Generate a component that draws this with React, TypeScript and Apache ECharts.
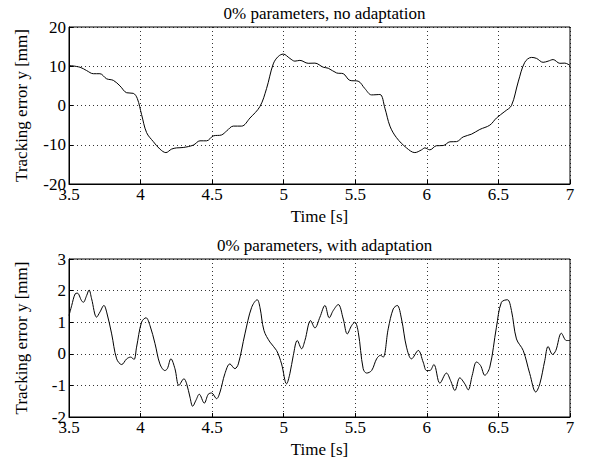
import React, { useEffect, useRef } from "react";
import * as echarts from "echarts";

const titleTop = "0% parameters, no adaptation";
const titleBottom = "0% parameters, with adaptation";
const yName = "Tracking error y [mm]";
const xName = "Time [s]";

const timeTop = [
  3.5, 3.577, 3.623, 3.67, 3.716, 3.763, 3.81, 3.856, 3.903, 3.949, 3.977, 4.007, 4.042, 4.089, 4.135, 4.177,
  4.217, 4.252, 4.298, 4.368, 4.415, 4.461, 4.508, 4.566, 4.601, 4.648, 4.706, 4.764, 4.834, 4.88, 4.927, 4.962,
  4.997, 5.043, 5.078, 5.113, 5.171, 5.218, 5.276, 5.311, 5.369, 5.416, 5.462, 5.52, 5.567, 5.614, 5.672, 5.707,
  5.742, 5.788, 5.858, 5.916, 5.963, 5.986, 6.021, 6.067, 6.114, 6.161, 6.207, 6.254, 6.312, 6.37, 6.44, 6.486,
  6.545, 6.591, 6.638, 6.684, 6.731, 6.766, 6.812, 6.847, 6.882, 6.929, 6.964, 7.0,
];
const errorTop = [
  10.2, 9.75, 8.9, 8.1, 8.1, 6.8, 6.4, 5.0, 3.25, 3.1, 1.8, -2.3, -6.9, -9.2, -11.1, -12,
  -11.1, -10.8, -10.7, -10.1, -9, -9, -7.75, -7.5, -6.5, -5.25, -5.25, -3.2, -0.25, 4.3, 10.6, 12.5,
  13.1, 12, 11.3, 11.5, 10.75, 10.8, 9.75, 9.5, 8.3, 8.1, 6.4, 6.2, 4.3, 2.7, 2.8, -0.7,
  -5.25, -8.2, -10.8, -12, -11.3, -10.8, -11.3, -10.25, -10.2, -9.25, -9.2, -8, -7.3, -6.1, -5, -3.2,
  -1.5, 0, 6, 11, 12.25, 12, 11, 11.3, 11.7, 10.75, 10.8, 10.2,
];

const timeBottom = [
  3.5, 3.519, 3.542, 3.558, 3.588, 3.6, 3.623, 3.64, 3.658, 3.693, 3.716, 3.744, 3.763, 3.798, 3.833, 3.868,
  3.903, 3.931, 3.954, 3.972, 4.007, 4.038, 4.066, 4.101, 4.135, 4.17, 4.187, 4.212, 4.24, 4.268, 4.303, 4.322,
  4.345, 4.364, 4.387, 4.41, 4.445, 4.473, 4.496, 4.531, 4.555, 4.589, 4.624, 4.659, 4.683, 4.729, 4.776, 4.815,
  4.834, 4.862, 4.904, 4.95, 4.985, 5.02, 5.043, 5.067, 5.095, 5.125, 5.148, 5.188, 5.218, 5.253, 5.288, 5.318,
  5.346, 5.381, 5.416, 5.444, 5.474, 5.497, 5.521, 5.555, 5.579, 5.614, 5.649, 5.676, 5.695, 5.73, 5.765, 5.793,
  5.823, 5.858, 5.893, 5.94, 5.974, 5.998, 6.021, 6.049, 6.091, 6.137, 6.165, 6.196, 6.23, 6.265, 6.289, 6.317,
  6.347, 6.375, 6.405, 6.44, 6.486, 6.521, 6.563, 6.591, 6.626, 6.673, 6.719, 6.761, 6.789, 6.824, 6.847, 6.878,
  6.901, 6.94, 6.975, 7.0,
];
const errorBottom = [
  1.21, 1.53, 1.89, 1.92, 1.68, 1.63, 1.84, 2.02, 1.74, 1.16, 1.32, 1.53, 1.32, 0.63, -0.16, -0.34,
  -0.16, -0.105, -0.18, 0.21, 1.0, 1.14, 0.89, 0.32, -0.32, -0.53, -0.47, -0.16, -0.47, -1.0, -0.79, -0.95,
  -1.37, -1.66, -1.47, -1.28, -1.56, -1.28, -1.24, -1.42, -1.21, -0.63, -0.32, -0.47, -0.32, 0.63, 1.47, 1.71,
  1.47, 0.74, 0.37, 0.105, -0.32, -0.95, -0.63, -0.05, 0.42, 0.16, 0.42, 1.05, 0.82, 1.16, 1.53, 1.14,
  1.37, 1.56, 1.1, 0.63, 0.89, 1.0, 0.68, -0.47, -0.61, -0.53, -0.16, -0.05, -0.105, 0.79, 1.42, 1.53,
  1.1, 0.21, -0.16, 0.105, -0.26, -0.53, -0.53, -0.34, -0.93, -0.61, -0.84, -1.16, -0.76, -0.95, -1.14, -0.68,
  -0.26, -0.37, -0.68, -0.42, 0.84, 1.63, 1.71, 1.37, 0.47, 0.105, -0.63, -1.21, -0.95, -0.21, 0.23, -0.02,
  0.105, 0.65, 0.42, 0.42,
];

const FONT = "Liberation Serif";
const FS = 17;

export default function App() {
  const ref = useRef<HTMLDivElement>(null);
  useEffect(() => {
    if (!ref.current) return;
    const chart = echarts.init(ref.current, undefined, { renderer: "svg" });
    const grids = [
      { left: 69, right: 32, top: 27, height: 157 },
      { left: 69, right: 32, top: 259, height: 158 },
    ];
    const dotted = { type: [1, 3] as any, color: "#000", width: 0.8 };
    const xAxisBase = (gi: number) => ({
      type: "value",
      gridIndex: gi,
      min: 3.5,
      max: 7,
      interval: 0.5,
      name: xName,
      nameLocation: "middle",
      nameGap: 24,
      nameTextStyle: { fontFamily: FONT, fontSize: FS, color: "#000" },
      axisLine: { show: true, onZero: false, lineStyle: { color: "#000", width: 1 } },
      axisTick: { show: true, inside: true, length: 4, lineStyle: { color: "#000" } },
      axisLabel: { fontFamily: FONT, fontSize: FS, color: "#000", margin: 2 },
      splitLine: { show: true, lineStyle: dotted },
    });
    const yAxisBase = (gi: number, min: number, max: number, interval: number) => ({
      type: "value",
      gridIndex: gi,
      min,
      max,
      interval,
      name: yName,
      nameLocation: "middle",
      nameGap: 39,
      nameTextStyle: { fontFamily: FONT, fontSize: FS, color: "#000" },
      axisLine: { show: true, onZero: false, lineStyle: { color: "#000", width: 1 } },
      axisTick: { show: true, inside: true, length: 4, lineStyle: { color: "#000" } },
      axisLabel: { fontFamily: FONT, fontSize: FS, color: "#000", margin: 3 },
      splitLine: { show: true, lineStyle: dotted },
    });
    chart.setOption({
      animation: false,
      backgroundColor: "#fff",
      title: [
        {
          text: titleTop,
          left: 319.5,
          textAlign: "center",
          top: 0,
          textStyle: { fontFamily: FONT, fontSize: FS, fontWeight: "normal", color: "#000" },
        },
        {
          text: titleBottom,
          left: 319.5,
          textAlign: "center",
          top: 232,
          textStyle: { fontFamily: FONT, fontSize: FS, fontWeight: "normal", color: "#000" },
        },
      ],
      grid: grids.map((g) => ({ ...g, show: true, borderColor: "#000", borderWidth: 1, backgroundColor: "transparent" })),
      xAxis: [xAxisBase(0), xAxisBase(1)],
      yAxis: [yAxisBase(0, -20, 20, 10), yAxisBase(1, -2, 3, 1)],
      series: [
        {
          type: "line",
          xAxisIndex: 0,
          yAxisIndex: 0,
          data: timeTop.map((t, i) => [t, errorTop[i]]),
          showSymbol: false,
          smooth: 0.35,
          lineStyle: { color: "#000", width: 1 },
        },
        {
          type: "line",
          xAxisIndex: 1,
          yAxisIndex: 1,
          data: timeBottom.map((t, i) => [t, errorBottom[i]]),
          showSymbol: false,
          smooth: 0.35,
          lineStyle: { color: "#000", width: 1 },
        },
      ],
    });
    return () => chart.dispose();
  }, []);
  return <div ref={ref} style={{ width: 602, height: 460, position: "absolute", left: 0, top: 0 }} />;
}
